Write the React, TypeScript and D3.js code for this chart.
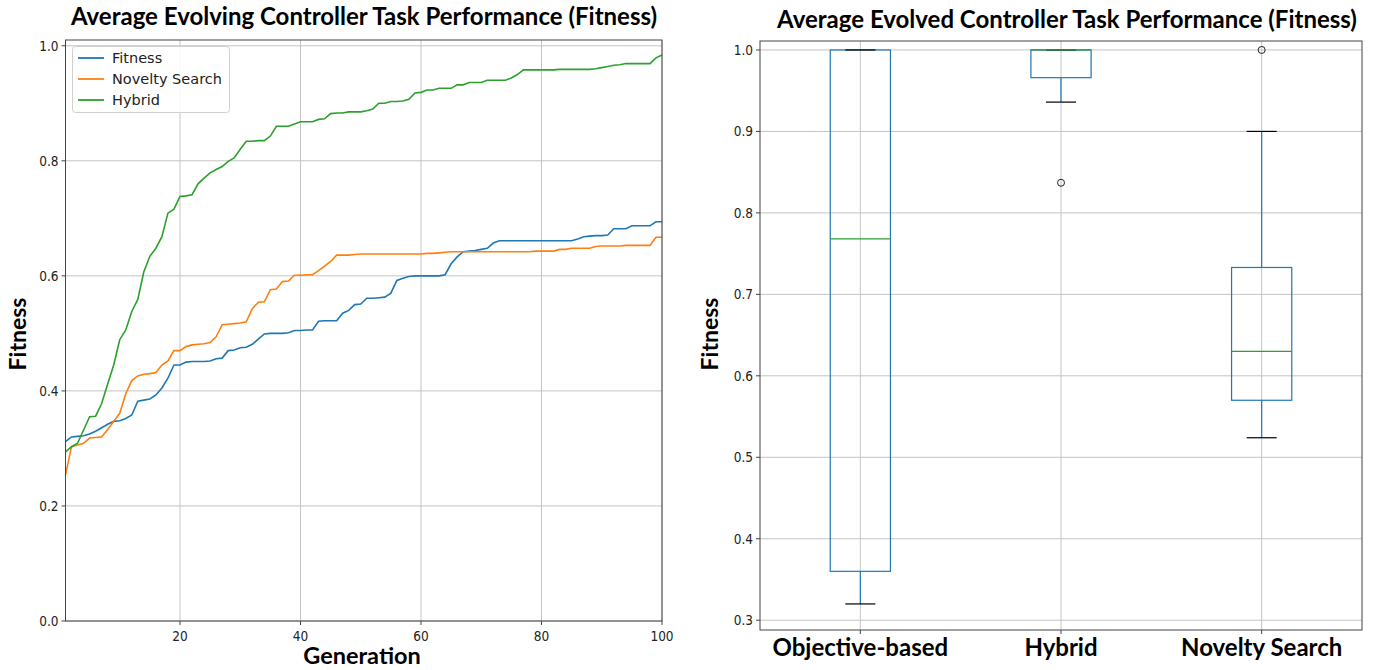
import { scaleLinear, line } from "d3";

const generations = Array.from({ length: 100 }, (_, i) => i + 1);

const fitnessSeries = [
  0.312, 0.32, 0.321, 0.322, 0.325, 0.33, 0.336, 0.342, 0.347, 0.348,
  0.352, 0.358, 0.382, 0.384, 0.386, 0.393, 0.405, 0.422, 0.445, 0.445,
  0.45, 0.451, 0.451, 0.451, 0.452, 0.456, 0.457, 0.47, 0.471, 0.475,
  0.476, 0.481, 0.49, 0.499, 0.5, 0.5, 0.5, 0.501, 0.505, 0.505,
  0.506, 0.506, 0.521, 0.522, 0.522, 0.522, 0.535, 0.54, 0.55, 0.551,
  0.561, 0.561, 0.562, 0.563, 0.57, 0.592, 0.596, 0.599, 0.6, 0.6,
  0.6, 0.6, 0.6, 0.602, 0.621, 0.633, 0.642, 0.643, 0.644, 0.646,
  0.648, 0.657, 0.661, 0.661, 0.661, 0.661, 0.661, 0.661, 0.661, 0.661,
  0.661, 0.661, 0.661, 0.661, 0.661, 0.664, 0.668, 0.669, 0.67, 0.67,
  0.671, 0.682, 0.682, 0.682, 0.687, 0.687, 0.687, 0.687, 0.694, 0.694,
];

const noveltySeries = [
  0.254, 0.303, 0.306, 0.309, 0.318, 0.319, 0.32, 0.333, 0.347, 0.361,
  0.395, 0.418, 0.426, 0.429, 0.43, 0.432, 0.445, 0.452, 0.47, 0.47,
  0.477, 0.48, 0.481, 0.482, 0.484, 0.494, 0.515, 0.516, 0.517, 0.518,
  0.52, 0.543, 0.554, 0.555, 0.576, 0.577, 0.59, 0.591, 0.601, 0.601,
  0.602, 0.602, 0.609, 0.617, 0.625, 0.636, 0.636, 0.636, 0.637, 0.638,
  0.638, 0.638, 0.638, 0.638, 0.638, 0.638, 0.638, 0.638, 0.638, 0.638,
  0.639, 0.639, 0.64, 0.641, 0.642, 0.642, 0.642, 0.642, 0.642, 0.642,
  0.642, 0.642, 0.642, 0.642, 0.642, 0.642, 0.642, 0.642, 0.643, 0.643,
  0.643, 0.643, 0.646, 0.646, 0.648, 0.648, 0.648, 0.648, 0.651, 0.652,
  0.652, 0.652, 0.652, 0.653, 0.653, 0.653, 0.653, 0.653, 0.667, 0.667,
];

const hybridSeries = [
  0.294, 0.303, 0.309, 0.332, 0.355, 0.356, 0.378, 0.412, 0.445, 0.489,
  0.506, 0.538, 0.559, 0.607, 0.634, 0.648, 0.668, 0.709, 0.716, 0.738,
  0.739, 0.741, 0.76, 0.77, 0.779, 0.785, 0.79, 0.799, 0.805, 0.82,
  0.834, 0.834, 0.835, 0.835, 0.843, 0.86, 0.86, 0.86, 0.864, 0.868,
  0.868, 0.868, 0.872, 0.873, 0.882, 0.883, 0.883, 0.885, 0.885, 0.885,
  0.887, 0.89, 0.9, 0.9, 0.903, 0.903, 0.904, 0.907, 0.918, 0.919,
  0.923, 0.923, 0.926, 0.926, 0.926, 0.932, 0.932, 0.936, 0.936, 0.936,
  0.94, 0.94, 0.94, 0.94, 0.944, 0.95, 0.958, 0.958, 0.958, 0.958,
  0.958, 0.958, 0.959, 0.959, 0.959, 0.959, 0.959, 0.959, 0.96, 0.962,
  0.964, 0.966, 0.967, 0.969, 0.969, 0.969, 0.969, 0.969, 0.979, 0.984,
];

const seriesNames = ["Fitness", "Novelty Search", "Hybrid"];
const seriesColors = ["#1f77b4", "#ff7f0e", "#2ca02c"];
const allSeries = [fitnessSeries, noveltySeries, hybridSeries];

const leftYTicks = [0, 0.2, 0.4, 0.6, 0.8, 1.0];
const leftXTicks = [20, 40, 60, 80, 100];

// box plot summary
const boxCategories = ["Objective-based", "Hybrid", "Novelty Search"];
const boxQ1 = [0.36, 0.966, 0.57];
const boxMedian = [0.768, 1.0, 0.63];
const boxQ3 = [1.0, 1.0, 0.733];
const whiskerLow = [0.32, 0.936, 0.524];
const whiskerHigh = [1.0, 1.0, 0.9];
const boxFliers = [[], [0.837], [1.0]];
const rightYTicks = [0.3, 0.4, 0.5, 0.6, 0.7, 0.8, 0.9, 1.0];

const tickFont = "'DejaVu Sans Condensed', Roboto, sans-serif";
const boldFont = "Lato, 'Open Sans', sans-serif";
const gridColor = "#c4c4c4";
const frameColor = "#444";

function LeftChart() {
  const x = scaleLinear().domain([1, 100]).range([65.5, 662]);
  const y = scaleLinear().domain([0, 1.01]).range([621, 40]);
  const path = line<number>()
    .x((_, i) => x(generations[i]))
    .y((d) => y(d));

  return (
    <g>
      {leftXTicks.map((t) => (
        <line key={"gx" + t} x1={x(t)} x2={x(t)} y1={y(1.01)} y2={y(0)} stroke={gridColor} strokeWidth={1} />
      ))}
      {leftYTicks.map((t) => (
        <line key={"gy" + t} x1={x(1)} x2={x(100)} y1={y(t)} y2={y(t)} stroke={gridColor} strokeWidth={1} />
      ))}

      {allSeries.map((s, i) => (
        <path key={seriesNames[i]} d={path(s) ?? ""} fill="none" stroke={seriesColors[i]} strokeWidth={1.6} />
      ))}

      <rect x={x(1)} y={y(1.01)} width={x(100) - x(1)} height={y(0) - y(1.01)} fill="none" stroke={frameColor} strokeWidth={1} />

      {leftYTicks.map((t) => (
        <g key={"ty" + t}>
          <line x1={x(1) - 4} x2={x(1)} y1={y(t)} y2={y(t)} stroke={frameColor} />
          <text x={x(1) - 7} y={y(t) + 5} textAnchor="end" fontSize={13.5} fontFamily={tickFont} fill="#222">
            {t.toFixed(1)}
          </text>
        </g>
      ))}
      {leftXTicks.map((t) => (
        <g key={"tx" + t}>
          <line x1={x(t)} x2={x(t)} y1={y(0)} y2={y(0) + 4} stroke={frameColor} />
          <text x={x(t)} y={y(0) + 20} textAnchor="middle" fontSize={13.5} fontFamily={tickFont} fill="#222">
            {t}
          </text>
        </g>
      ))}

      <g>
        <rect x={72.5} y={46.5} width={157} height={66} rx={3} fill="#fff" fillOpacity={0.85} stroke="#d0d0d0" />
        {seriesNames.map((n, i) => (
          <g key={"lg" + n} transform={`translate(78, ${58 + i * 21})`}>
            <line x1={0} x2={26} y1={0} y2={0} stroke={seriesColors[i]} strokeWidth={1.8} />
            <text x={34} y={5} fontSize={14.5} fontFamily="'DejaVu Sans', sans-serif" fill="#222">
              {n}
            </text>
          </g>
        ))}
      </g>

      <text x={364} y={25} textAnchor="middle" fontSize={24} fontWeight="bold" fontFamily={boldFont} fill="#000">
        Average Evolving Controller Task Performance (Fitness)
      </text>
      <text x={362} y={664} textAnchor="middle" fontSize={23.5} fontWeight="bold" fontFamily={boldFont} fill="#000">
        Generation
      </text>
      <text transform="translate(26, 334) rotate(-90)" textAnchor="middle" fontSize={23} fontWeight="bold" fontFamily={boldFont} fill="#000">
        Fitness
      </text>
    </g>
  );
}

function RightChart() {
  const x = scaleLinear().domain([0.5, 3.5]).range([760, 1362]);
  const y = scaleLinear().domain([0.288, 1.011]).range([630, 41]);
  const boxW = 0.3;
  const capW = 0.15;

  return (
    <g>
      {boxCategories.map((c, i) => (
        <line key={"gx" + c} x1={x(i + 1)} x2={x(i + 1)} y1={y(1.011)} y2={y(0.288)} stroke={gridColor} />
      ))}
      {rightYTicks.map((t) => (
        <line key={"gy" + t} x1={x(0.5)} x2={x(3.5)} y1={y(t)} y2={y(t)} stroke={gridColor} />
      ))}

      {boxCategories.map((c, i) => {
        const p = i + 1;
        return (
          <g key={"box" + c}>
            <rect
              x={x(p - boxW / 2)}
              y={y(boxQ3[i])}
              width={x(p + boxW / 2) - x(p - boxW / 2)}
              height={y(boxQ1[i]) - y(boxQ3[i])}
              fill="none"
              stroke="#1f77b4"
              strokeWidth={1.2}
            />
            <line x1={x(p)} x2={x(p)} y1={y(boxQ1[i])} y2={y(whiskerLow[i])} stroke="#1f77b4" strokeWidth={1.2} />
            <line x1={x(p)} x2={x(p)} y1={y(boxQ3[i])} y2={y(whiskerHigh[i])} stroke="#1f77b4" strokeWidth={1.2} />
            <line x1={x(p - capW / 2)} x2={x(p + capW / 2)} y1={y(whiskerLow[i])} y2={y(whiskerLow[i])} stroke="#000" strokeWidth={1.2} />
            <line x1={x(p - capW / 2)} x2={x(p + capW / 2)} y1={y(whiskerHigh[i])} y2={y(whiskerHigh[i])} stroke="#000" strokeWidth={1.2} />
            <line x1={x(p - boxW / 2)} x2={x(p + boxW / 2)} y1={y(boxMedian[i])} y2={y(boxMedian[i])} stroke="#2ca02c" strokeWidth={1.2} />
            {boxFliers[i].map((f, j) => (
              <circle key={j} cx={x(p)} cy={y(f)} r={3.5} fill="none" stroke="#222" strokeWidth={1} />
            ))}
          </g>
        );
      })}

      <rect x={x(0.5)} y={y(1.011)} width={x(3.5) - x(0.5)} height={y(0.288) - y(1.011)} fill="none" stroke={frameColor} strokeWidth={1} />

      {rightYTicks.map((t) => (
        <g key={"ty" + t}>
          <line x1={x(0.5) - 4} x2={x(0.5)} y1={y(t)} y2={y(t)} stroke={frameColor} />
          <text x={x(0.5) - 7} y={y(t) + 5} textAnchor="end" fontSize={13.5} fontFamily={tickFont} fill="#222">
            {t.toFixed(1)}
          </text>
        </g>
      ))}
      {boxCategories.map((c, i) => (
        <g key={"tx" + c}>
          <line x1={x(i + 1)} x2={x(i + 1)} y1={y(0.288)} y2={y(0.288) + 4} stroke={frameColor} />
          <text x={x(i + 1)} y={656} textAnchor="middle" fontSize={24} fontWeight="bold" fontFamily={boldFont} fill="#000">
            {c}
          </text>
        </g>
      ))}

      <text x={1067} y={28} textAnchor="middle" fontSize={24} fontWeight="bold" fontFamily={boldFont} fill="#000">
        Average Evolved Controller Task Performance (Fitness)
      </text>
      <text transform="translate(718, 334) rotate(-90)" textAnchor="middle" fontSize={23} fontWeight="bold" fontFamily={boldFont} fill="#000">
        Fitness
      </text>
    </g>
  );
}

export default function App() {
  return (
    <svg
      width={1375}
      height={670}
      viewBox="0 0 1375 670"
      style={{ position: "absolute", left: 0, top: 0, background: "#fff" }}
    >
      <rect width={1375} height={670} fill="#fff" />
      <LeftChart />
      <RightChart />
    </svg>
  );
}
